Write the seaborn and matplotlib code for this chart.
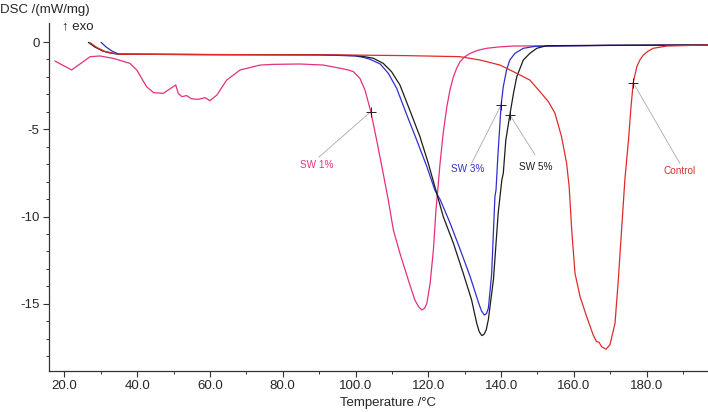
import pandas as pd
import seaborn as sns
import matplotlib.pyplot as plt

# curves: temperature (°C) and DSC signal (mW/mg)
sw1_t = [17.4, 22.0, 27.1, 29.8, 33.5, 38.0, 39.9, 42.6, 44.5, 47.2, 49.9, 50.6, 51.3, 52.3, 53.6,
         55.0, 56.8, 58.7, 60.0, 61.9, 64.6, 68.3, 73.8, 77.4, 84.8, 91.2, 95.7, 98.0, 99.4, 101.2, 102.6,
         104.2, 105.8, 107.6, 109.0, 110.4, 112.2, 114.5, 116.3, 117.3, 118.2, 119.0, 119.6, 120.5, 121.4,
         122.1, 122.6, 123.2, 124.1, 125.1, 126.0, 126.9, 127.8, 128.7, 130.0, 131.5, 133.5, 136.0, 139.5,
         143.4, 165.0, 196.8]
sw1_v = [-1.09, -1.6, -0.84, -0.80, -0.94, -1.22, -1.6, -2.56, -2.9, -2.94, -2.56, -2.46, -2.94, -3.13, -3.07,
         -3.26, -3.28, -3.19, -3.36, -3.04, -2.18, -1.6, -1.32, -1.28, -1.26, -1.32, -1.5, -1.6, -1.7, -2.08, -2.75,
         -3.99, -5.61, -7.52, -9.05, -10.77, -12.1, -13.63, -14.78, -15.15, -15.35, -15.25, -14.97, -13.82, -11.91,
         -9.62, -8.48, -7.0, -5.2, -3.7, -2.7, -1.99, -1.5, -1.13, -0.85, -0.65, -0.48, -0.36, -0.28,
         -0.23, -0.2, -0.17]

sw3_t = [30.1, 31.5, 33.1, 34.9, 60.0, 90.0, 100.0, 102.2, 104.0, 106.8, 109.0, 111.3, 114.1, 116.8, 119.6,
         121.8, 123.3, 126.0, 128.8, 131.5, 133.7, 134.6, 135.4, 136.0, 136.5, 137.4, 138.3, 138.6, 139.1,
         140.0, 140.6, 141.5, 142.4, 143.8, 146.1, 149.3, 170.0, 196.8]
sw3_v = [-0.02, -0.29, -0.52, -0.69, -0.72, -0.73, -0.8, -0.88, -0.99, -1.26, -1.79, -2.65, -4.18, -5.61, -7.14,
         -8.48, -9.05, -10.38, -11.91, -13.44, -14.87, -15.4, -15.64, -15.55, -15.25, -13.3, -8.86, -8.48, -6.57,
         -3.61, -2.56, -1.6, -1.03, -0.65, -0.36, -0.25, -0.19, -0.17]

sw5_t = [26.6, 28.4, 30.6, 32.6, 34.9, 60.0, 90.0, 100.0, 102.5, 104.9, 107.6, 109.9, 112.2, 114.9, 117.7,
         120.0, 121.8, 124.1, 126.9, 129.6, 131.9, 133.3, 134.0, 134.7, 135.3, 135.9, 136.5, 137.9, 139.2,
         140.2, 140.6, 141.3, 142.4, 143.4, 144.3, 146.1, 147.9, 149.8, 152.5, 170.0, 196.8]
sw5_v = [-0.02, -0.29, -0.52, -0.63, -0.7, -0.72, -0.73, -0.78, -0.84, -0.93, -1.22, -1.7, -2.46, -3.9, -5.42,
         -6.95, -8.29, -10.0, -11.53, -13.25, -14.78, -16.11, -16.6, -16.82, -16.75, -16.5, -15.9, -13.6, -9.8,
         -7.9, -7.52, -5.61, -4.18, -2.94, -1.99, -1.03, -0.65, -0.36, -0.21, -0.19, -0.17]

ctrl_t = [27.1, 29.0, 31.2, 34.9, 60.0, 95.7, 114.1, 128.7, 134.2, 139.7, 143.4, 147.9, 150.7, 153.0,
          154.8, 156.6, 158.0, 158.7, 159.4, 160.3, 161.7, 163.5, 165.3, 166.2, 166.9, 167.6, 168.8,
          169.9, 171.3, 172.2, 173.1, 174.0, 175.0, 175.7, 176.3, 177.3, 178.2, 179.1, 180.4, 181.8,
          185.5, 196.8]
ctrl_v = [-0.04, -0.32, -0.54, -0.7, -0.72, -0.74, -0.78, -0.84, -1.03, -1.32, -1.7, -2.18, -2.85, -3.42,
          -4.08, -5.42, -6.95, -8.29, -10.77, -13.25, -14.59, -15.73, -16.78, -17.16, -17.2, -17.45, -17.6,
          -17.35, -16.11, -13.63, -10.77, -7.9, -5.61, -3.7, -2.33, -1.41, -1.0, -0.74, -0.52, -0.36,
          -0.23, -0.17]

samples = ['SW 1%', 'SW 3%', 'SW 5%', 'Control']
colors = ['#e3307f', '#2f2fcf', '#1c1c1c', '#de2c2c']
text_colors = ['#e0358a', '#3535c0', '#1c1c1c', '#d83030']

# '+' marks on the curves, label positions and leader line starts
mark_t = [104.2, 140.0, 142.4, 176.3]
mark_v = [-3.99, -3.61, -4.18, -2.33]
label_t = [89.4, 130.8, 149.6, 189.1]
label_v = [-7.04, -7.27, -7.18, -7.39]
lead_t = [89.9, 131.9, 149.3, 189.1]
lead_v = [-6.6, -6.95, -6.45, -6.95]

curves = [(sw1_t, sw1_v), (sw3_t, sw3_v), (sw5_t, sw5_v), (ctrl_t, ctrl_v)]
df = pd.concat([pd.DataFrame({'T': t, 'v': v, 'sample': s}) for (t, v), s in zip(curves, samples)],
               ignore_index=True)

sns.set_style('ticks')
plt.rcParams['font.family'] = ['Liberation Sans', 'DejaVu Sans']

fig = plt.figure(figsize=(7.08, 4.12), dpi=100)
ax = fig.add_axes([0.0697, 0.1002, 0.9568, 0.844])

sns.lineplot(data=df, x='T', y='v', hue='sample', hue_order=samples, palette=colors,
             sort=False, estimator=None, legend=False, linewidth=0.9, ax=ax)

for i in range(4):
    ax.plot([lead_t[i], mark_t[i]], [lead_v[i], mark_v[i]], color='#b0a6aa', lw=0.6, zorder=1)
    ax.text(label_t[i], label_v[i], samples[i], color=text_colors[i], fontsize=7.2,
            ha='center', va='center')
sns.scatterplot(x=mark_t, y=mark_v, marker='+', color='#222222', s=45, linewidth=0.7, ax=ax, zorder=5)

ax.set_xlim(15.88, 202.0)
ax.set_ylim(-18.83, 1.09)
ax.set_xticks([20, 40, 60, 80, 100, 120, 140, 160, 180])
ax.set_xticklabels(['20.0', '40.0', '60.0', '80.0', '100.0', '120.0', '140.0', '160.0', '180.0'])
ax.set_xticks(range(20, 201, 10), minor=True)
ax.set_yticks([0, -5, -10, -15])
ax.set_yticklabels(['0', '-5', '-10', '-15'])
ax.set_yticks(range(-18, 1), minor=True)
ax.tick_params(which='major', length=4, width=0.8, labelsize=9.5, color='#333333', pad=3)
ax.tick_params(which='minor', length=2.5, width=0.7, color='#333333')
sns.despine(ax=ax)
for sp in ['left', 'bottom']:
    ax.spines[sp].set_linewidth(0.9)
    ax.spines[sp].set_color('#333333')

ax.set_xlabel('Temperature /°C', fontsize=9.5, labelpad=3)
ax.set_ylabel('')
fig.text(0.0, 0.976, 'DSC /(mW/mg)', fontsize=9.5, ha='left', va='center')
fig.text(0.087, 0.937, '↑ exo', fontsize=9.5, ha='left', va='center')

fig.savefig('out.png', dpi=100)
